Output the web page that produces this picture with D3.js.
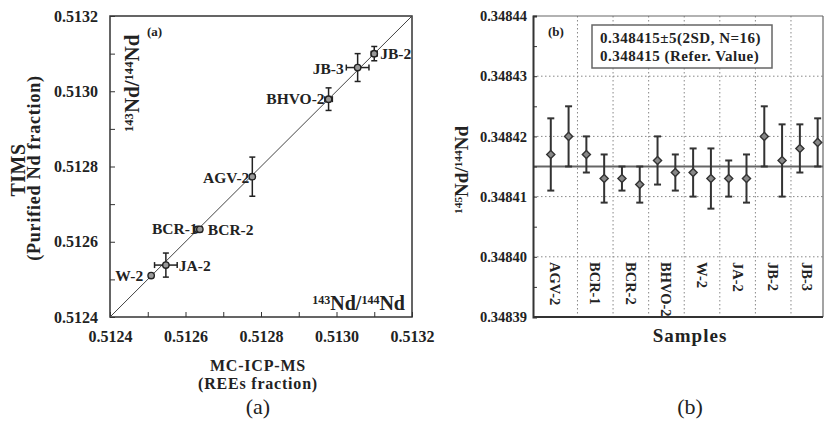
<!DOCTYPE html>
<html lang="en">
<head>
    <meta charset="UTF-8">
    <title>Nd isotope comparison</title>
    <script src="https://d3js.org/d3.v7.min.js"></script>
    <style>
        body { margin: 0; background: #fff; }
        svg { font-family: "Liberation Serif", "Times New Roman", serif; fill: #222; }
        .bold { font-weight: bold; }
        .axis path, .axis line { stroke: #333; }
    </style>
</head>
<body>
<svg id="chart" width="825" height="423"></svg>
<script>
    // Panel (a): MC-ICP-MS vs TIMS 143Nd/144Nd
    var samplesA = ["JB-2", "JB-3", "BHVO-2", "AGV-2", "BCR-1", "BCR-2", "JA-2", "W-2"];
    var mcValues = [0.513100, 0.513056, 0.512979, 0.512777, 0.512632, 0.512638, 0.512548, 0.512509];
    var mcErrors = [0.000008, 0.000030, 0.000010, 0.000005, 0.000004, 0.000004, 0.000030, 0.000004];
    var timsValues = [0.513100, 0.513063, 0.512979, 0.512773, 0.512633, 0.512633, 0.512538, 0.512510];
    var timsErrors = [0.000019, 0.000037, 0.000030, 0.000052, 0.000006, 0.000006, 0.000032, 0.000005];
    var ticksA = [0.5124, 0.5126, 0.5128, 0.5130, 0.5132];

    // Panel (b): 145Nd/144Nd per sample run
    var categoriesB = ["AGV-2", "BCR-1", "BCR-2", "BHVO-2", "W-2", "JA-2", "JB-2", "JB-3"];
    var ratio145 = [0.348417, 0.348420, 0.348417, 0.348413, 0.348413, 0.348412, 0.348416, 0.348414,
                    0.348414, 0.348413, 0.348413, 0.348413, 0.348420, 0.348416, 0.348418, 0.348419];
    var ratio145Err = [0.000006, 0.000005, 0.000003, 0.000004, 0.000002, 0.000003, 0.000004, 0.000003,
                       0.000004, 0.000005, 0.000003, 0.000004, 0.000005, 0.000006, 0.000004, 0.000004];
    var ticksB = [0.34839, 0.34840, 0.34841, 0.34842, 0.34843, 0.34844];
    var refValue = 0.348415;

    // label placement for panel (a): [dx, dy, anchor]
    var labelPos = {
        "JB-2": [6, 5, "start"], "JB-3": [-14, 6, "end"], "BHVO-2": [-4, 5, "end"],
        "AGV-2": [-3, 6, "end"], "BCR-1": [0, 5, "end"], "BCR-2": [8, 6, "start"],
        "JA-2": [13, 6, "start"], "W-2": [-8, 5, "end"]
    };

    var svg = d3.select("#chart");

    // ---------- panel (a) ----------
    var xA = d3.scaleLinear().domain([0.5124, 0.5132]).range([110, 412]);
    var yA = d3.scaleLinear().domain([0.5124, 0.5132]).range([317, 16]);
    var minorA = d3.range(0, 9).map(i => +(0.5124 + i * 0.0001).toFixed(4));
    var fmt4 = d3.format(".4f");
    var isMajorA = v => ticksA.some(t => Math.abs(t - v) < 1e-8);

    var styleTicks = function(sel, size) {
        sel.selectAll("text")
            .attr("font-family", null)
            .style("font-family", "'Liberation Serif', serif")
            .style("font-weight", "bold")
            .style("font-size", size)
            .style("fill", "#222");
    };

    var ga = svg.append("g");

    // frame
    ga.append("rect")
        .attr("x", xA(0.5124)).attr("y", yA(0.5132))
        .attr("width", xA(0.5132) - xA(0.5124)).attr("height", yA(0.5124) - yA(0.5132))
        .attr("fill", "none").attr("stroke", "#333").attr("stroke-width", 1.5);

    ga.append("g").attr("class", "axis")
        .attr("transform", "translate(0," + yA(0.5124) + ")")
        .call(d3.axisBottom(xA).tickValues(minorA).tickSize(-5).tickPadding(14)
            .tickFormat(v => isMajorA(v) ? fmt4(v) : ""))
        .call(g => g.select(".domain").remove())
        .call(styleTicks, "16px");

    ga.append("g").attr("class", "axis")
        .attr("transform", "translate(" + xA(0.5124) + ",0)")
        .call(d3.axisLeft(yA).tickValues(minorA).tickSize(-5).tickPadding(12)
            .tickFormat(v => isMajorA(v) ? fmt4(v) : ""))
        .call(g => g.select(".domain").remove())
        .call(styleTicks, "16px");

    // 1:1 line
    ga.append("line")
        .attr("x1", xA(0.5124)).attr("y1", yA(0.5124))
        .attr("x2", xA(0.5132)).attr("y2", yA(0.5132))
        .attr("stroke", "#444").attr("stroke-width", 1);

    var dataA = samplesA.map((s, i) => ({ name: s, x: mcValues[i], ex: mcErrors[i], y: timsValues[i], ey: timsErrors[i] }));

    var pts = ga.selectAll(".pt").data(dataA).enter().append("g").attr("class", "pt");
    pts.append("line")
        .attr("x1", d => xA(d.x - d.ex)).attr("x2", d => xA(d.x + d.ex))
        .attr("y1", d => yA(d.y)).attr("y2", d => yA(d.y))
        .attr("stroke", "#222").attr("stroke-width", 1.5);
    pts.append("line")
        .attr("x1", d => xA(d.x)).attr("x2", d => xA(d.x))
        .attr("y1", d => yA(d.y - d.ey)).attr("y2", d => yA(d.y + d.ey))
        .attr("stroke", "#222").attr("stroke-width", 1.5);
    // caps
    [-1, 1].forEach(function(s) {
        pts.append("line")
            .attr("x1", d => xA(d.x) - 3).attr("x2", d => xA(d.x) + 3)
            .attr("y1", d => yA(d.y + s * d.ey)).attr("y2", d => yA(d.y + s * d.ey))
            .attr("stroke", "#222").attr("stroke-width", 1.5);
        pts.append("line")
            .attr("x1", d => xA(d.x + s * d.ex)).attr("x2", d => xA(d.x + s * d.ex))
            .attr("y1", d => yA(d.y) - 3).attr("y2", d => yA(d.y) + 3)
            .attr("stroke", "#222").attr("stroke-width", 1.5);
    });
    pts.append("circle")
        .attr("cx", d => xA(d.x)).attr("cy", d => yA(d.y)).attr("r", 3.2)
        .attr("fill", "#999").attr("stroke", "#222").attr("stroke-width", 1.4);
    pts.append("text")
        .attr("class", "bold")
        .attr("x", d => xA(d.x) + labelPos[d.name][0])
        .attr("y", d => yA(d.y) + labelPos[d.name][1])
        .attr("text-anchor", d => labelPos[d.name][2])
        .style("font-size", "15.5px")
        .text(d => d.name);

    ga.append("text").attr("class", "bold").attr("x", 147).attr("y", 36)
        .style("font-size", "13px").text("(a)");

    // inner ratio labels
    var ratioLabel = function(sel, sup1, size) {
        sel.append("tspan").style("font-size", (size * 0.6) + "px").attr("dy", -size * 0.3).text(sup1);
        sel.append("tspan").attr("dy", size * 0.3).text("Nd/");
        sel.append("tspan").style("font-size", (size * 0.6) + "px").attr("dy", -size * 0.3).text("144");
        sel.append("tspan").attr("dy", size * 0.3).text("Nd");
    };
    ga.append("text").attr("class", "bold")
        .attr("transform", "translate(139,132) rotate(-90)")
        .style("font-size", "21px")
        .call(ratioLabel, "143", 21);
    ga.append("text").attr("class", "bold")
        .attr("x", 405).attr("y", 310).attr("text-anchor", "end")
        .style("font-size", "20px")
        .call(ratioLabel, "143", 20);

    // axis titles
    ga.append("text").attr("class", "bold").attr("text-anchor", "middle")
        .attr("transform", "translate(25,170) rotate(-90)")
        .style("font-size", "20px").style("letter-spacing", "0.5px").text("TIMS");
    ga.append("text").attr("class", "bold").attr("text-anchor", "middle")
        .attr("transform", "translate(40,168) rotate(-90)")
        .style("font-size", "18px").style("letter-spacing", "0.8px").text("(Purified Nd fraction)");
    ga.append("text").attr("class", "bold").attr("text-anchor", "middle")
        .attr("x", 258).attr("y", 371).style("font-size", "16px").style("letter-spacing", "0.8px").text("MC-ICP-MS");
    ga.append("text").attr("class", "bold").attr("text-anchor", "middle")
        .attr("x", 258).attr("y", 389).style("font-size", "16px").style("letter-spacing", "0.8px").text("(REEs fraction)");
    ga.append("text").attr("text-anchor", "middle")
        .attr("x", 258).attr("y", 414).style("font-size", "22px").text("(a)");

    // ---------- panel (b) ----------
    var xB = d3.scaleLinear().domain([0, 16.3]).range([533, 823]);
    var yB = d3.scaleLinear().domain([0.34839, 0.34844]).range([317, 16]);
    var gb = svg.append("g");

    var bounds = d3.range(1, 8).map(i => 2 * i + 0.5);
    var minorB = d3.range(0, 11).map(i => +(0.34839 + i * 0.000005).toFixed(6));

    // dotted grid
    gb.selectAll(".hgrid").data(ticksB.slice(1, -1)).enter().append("line")
        .attr("x1", xB(0)).attr("x2", xB(16.3))
        .attr("y1", d => yB(d)).attr("y2", d => yB(d))
        .attr("stroke", "#888").attr("stroke-width", 1).attr("stroke-dasharray", "1.5,2.5");
    gb.selectAll(".vgrid").data(bounds).enter().append("line")
        .attr("x1", d => xB(d)).attr("x2", d => xB(d))
        .attr("y1", yB(0.34844)).attr("y2", yB(0.34839))
        .attr("stroke", "#888").attr("stroke-width", 1).attr("stroke-dasharray", "1.5,2.5");

    // reference line
    gb.append("line")
        .attr("x1", xB(0)).attr("x2", xB(16.3))
        .attr("y1", yB(refValue)).attr("y2", yB(refValue))
        .attr("stroke", "#666").attr("stroke-width", 2);

    // frame
    gb.append("line").attr("x1", xB(0)).attr("x2", xB(16.3)).attr("y1", yB(0.34844)).attr("y2", yB(0.34844))
        .attr("stroke", "#666").attr("stroke-width", 1.2);
    gb.append("line").attr("x1", xB(16.3)).attr("x2", xB(16.3)).attr("y1", yB(0.34844)).attr("y2", yB(0.34839))
        .attr("stroke", "#666").attr("stroke-width", 1.2);
    gb.append("line").attr("x1", xB(0)).attr("x2", xB(16.3)).attr("y1", yB(0.34839)).attr("y2", yB(0.34839))
        .attr("stroke", "#333").attr("stroke-width", 2);

    var fmt5 = d3.format(".5f");
    var isMajorB = v => ticksB.some(t => Math.abs(t - v) < 1e-9);
    gb.append("g").attr("class", "axis")
        .attr("transform", "translate(" + xB(0) + ",0)")
        .call(d3.axisLeft(yB).tickValues(minorB).tickSize(-4).tickPadding(6)
            .tickFormat(v => isMajorB(v) ? fmt5(v) : ""))
        .call(g => g.select(".domain").attr("stroke-width", 2))
        .call(styleTicks, "14.5px");

    var dataB = ratio145.map((v, i) => ({ i: i + 1, v: v, e: ratio145Err[i] }));
    var bars = gb.selectAll(".eb").data(dataB).enter().append("g");
    bars.append("line")
        .attr("x1", d => xB(d.i)).attr("x2", d => xB(d.i))
        .attr("y1", d => yB(d.v - d.e)).attr("y2", d => yB(d.v + d.e))
        .attr("stroke", "#333").attr("stroke-width", 2);
    [-1, 1].forEach(function(s) {
        bars.append("line")
            .attr("x1", d => xB(d.i) - 3.5).attr("x2", d => xB(d.i) + 3.5)
            .attr("y1", d => yB(d.v + s * d.e)).attr("y2", d => yB(d.v + s * d.e))
            .attr("stroke", "#333").attr("stroke-width", 2);
    });
    bars.append("path")
        .attr("d", d3.symbol().type(d3.symbolDiamond2).size(42))
        .attr("transform", d => "translate(" + xB(d.i) + "," + yB(d.v) + ")")
        .attr("fill", "#888").attr("stroke", "#333").attr("stroke-width", 1.4);

    // category labels
    var catCenters = [1.25].concat(d3.range(1, 7).map(i => 2 * i + 1.5)).concat([15.4]);
    gb.selectAll(".cat").data(categoriesB).enter().append("text")
        .attr("class", "bold")
        .attr("transform", (d, i) => "translate(" + xB(catCenters[i]) + ",262) rotate(90)")
        .attr("dominant-baseline", "central")
        .style("font-size", "14.5px")
        .text(d => d);

    // legend box
    gb.append("rect").attr("x", 592).attr("y", 25).attr("width", 180).attr("height", 43)
        .attr("fill", "#fff").attr("stroke", "#666").attr("stroke-width", 1.5);
    gb.append("text").attr("class", "bold").attr("x", 600).attr("y", 43)
        .style("font-size", "15px").style("letter-spacing", "0.5px").text("0.348415\u00B15(2SD, N=16)");
    gb.append("text").attr("class", "bold").attr("x", 600).attr("y", 61)
        .style("font-size", "15px").style("letter-spacing", "0.5px").text("0.348415 (Refer. Value)");

    gb.append("text").attr("class", "bold").attr("x", 548).attr("y", 36)
        .style("font-size", "13px").text("(b)");

    gb.append("text").attr("class", "bold")
        .attr("transform", "translate(468,214) rotate(-90)")
        .style("font-size", "19px")
        .call(ratioLabel, "145", 19);

    gb.append("text").attr("class", "bold").attr("text-anchor", "middle")
        .attr("x", 690).attr("y", 342).style("font-size", "19px").style("letter-spacing", "1px").text("Samples");
    gb.append("text").attr("text-anchor", "middle")
        .attr("x", 690).attr("y", 414).style("font-size", "22px").text("(b)");
</script>
</body>
</html>
